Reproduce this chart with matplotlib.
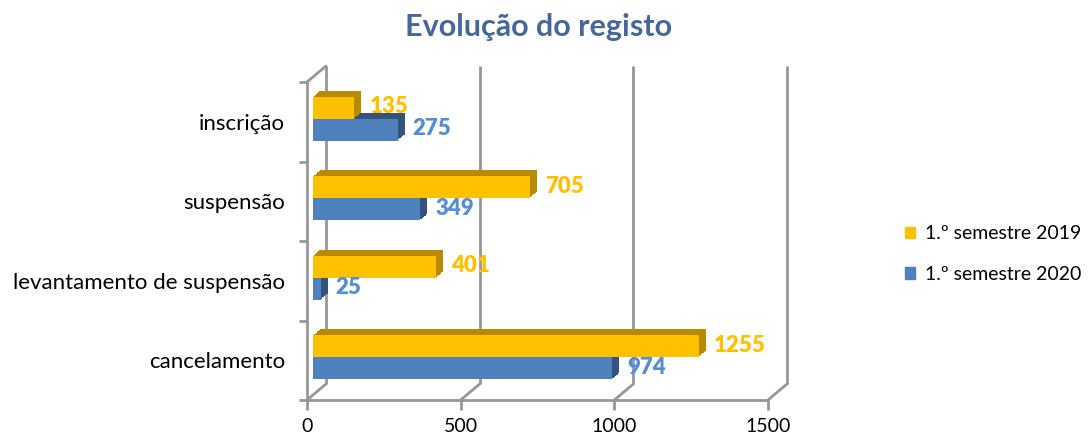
import matplotlib
matplotlib.use("Agg")
import matplotlib.pyplot as plt
import matplotlib.transforms as mtransforms
import numpy as np

plt.rcParams['font.family'] = ['Lato', 'DejaVu Sans']

title = "Evolução do registo"
categories = ["cancelamento", "levantamento de suspensão", "suspensão", "inscrição"]
series_names = ["1.º semestre 2019", "1.º semestre 2020"]
values_2019 = [1255, 401, 705, 135]
values_2020 = [974, 25, 349, 275]
x_ticks = [0, 500, 1000, 1500]

face_colors = ["#FFC000", "#4F81BD"]
depth_colors = ["#B88A00", "#34547E"]
label_colors = ["#FFC000", "#558ED5"]
grid_color = "#979797"

W, H = 1088, 437
fig = plt.figure(figsize=(W / 100, H / 100), dpi=100)
ax = fig.add_axes([307 / W, (H - 400) / H, 461 / W, (400 - 82) / H])
ax.set_xlim(0, 1500)
ax.set_ylim(-0.5, 3.5)

def off(dx, dy):
    return mtransforms.offset_copy(ax.transData, fig=fig, x=dx, y=dy, units='dots')

# back wall gridlines (offset into depth)
back_dx, back_dy = 19, 16
for v in x_ticks:
    ax.plot([v, v], [-0.5, 3.5], color=grid_color, lw=2, transform=off(back_dx, back_dy),
            clip_on=False, zorder=1, solid_capstyle='butt')
    ax.annotate('', xy=(v, -0.5), xytext=(back_dx, back_dy), textcoords='offset pixels',
                arrowprops=dict(arrowstyle='-', color=grid_color, lw=2, shrinkA=0, shrinkB=0),
                annotation_clip=False, zorder=1)
ax.annotate('', xy=(0, 3.5), xytext=(back_dx, back_dy), textcoords='offset pixels',
            arrowprops=dict(arrowstyle='-', color=grid_color, lw=2, shrinkA=0, shrinkB=0),
            annotation_clip=False, zorder=1)

y = np.arange(len(categories))
bar_h = 0.277
centers = [y + bar_h / 2 + 0.04, y - bar_h / 2 + 0.04]
vals = [values_2019, values_2020]
fdx, fdy = 6, 0
depth_x, depth_y = 7, 6
for s in range(2):
    steps = 8
    for k in range(steps, 0, -1):
        ax.barh(centers[s], vals[s], height=bar_h, color=depth_colors[s],
                transform=off(fdx + depth_x * k / steps, fdy + depth_y * k / steps),
                zorder=3 + (1 - s) * 0.1, clip_on=False)
    ax.barh(centers[s], vals[s], height=bar_h, color=face_colors[s], transform=off(fdx, fdy),
            zorder=3.05 + (1 - s) * 0.1, label=series_names[s], clip_on=False)
    for yc, v in zip(centers[s], vals[s]):
        ax.annotate(str(v), xy=(v, yc), xytext=(fdx + 15, 1), textcoords='offset pixels',
                    ha='left', va='center', fontsize=16, fontweight='heavy',
                    color=label_colors[s], zorder=5, annotation_clip=False)

for sp in ["top", "right"]:
    ax.spines[sp].set_visible(False)
for sp in ["left", "bottom"]:
    ax.spines[sp].set_color(grid_color)
    ax.spines[sp].set_linewidth(2)
    ax.spines[sp].set_zorder(1)

ax.set_xticks(x_ticks)
ax.set_xticklabels([str(t) for t in x_ticks], fontsize=14)
ax.tick_params(axis='x', length=7, width=2, color=grid_color, pad=6)
ax.set_yticks(y)
ax.set_yticklabels(categories, fontsize=16)
ax.tick_params(axis='y', which='major', length=0, pad=16)
ax.set_yticks(np.arange(-0.5, 4, 1), minor=True)
ax.tick_params(axis='y', which='minor', length=6, width=2, color=grid_color)
ax.patch.set_visible(False)

fig.text(539 / W, 1 - 27 / H, title, ha='center', va='center', fontsize=22,
         fontweight='bold', color="#44689E")

handles = [plt.Rectangle((0, 0), 1, 1, color=c) for c in face_colors]
fig.legend(handles, series_names, loc='center left', bbox_to_anchor=(887 / W, 1 - 254 / H),
           frameon=False, fontsize=14, handlelength=0.55, handleheight=0.55,
           handletextpad=0.5, labelspacing=1.2)

fig.savefig("out.png", dpi=100)
